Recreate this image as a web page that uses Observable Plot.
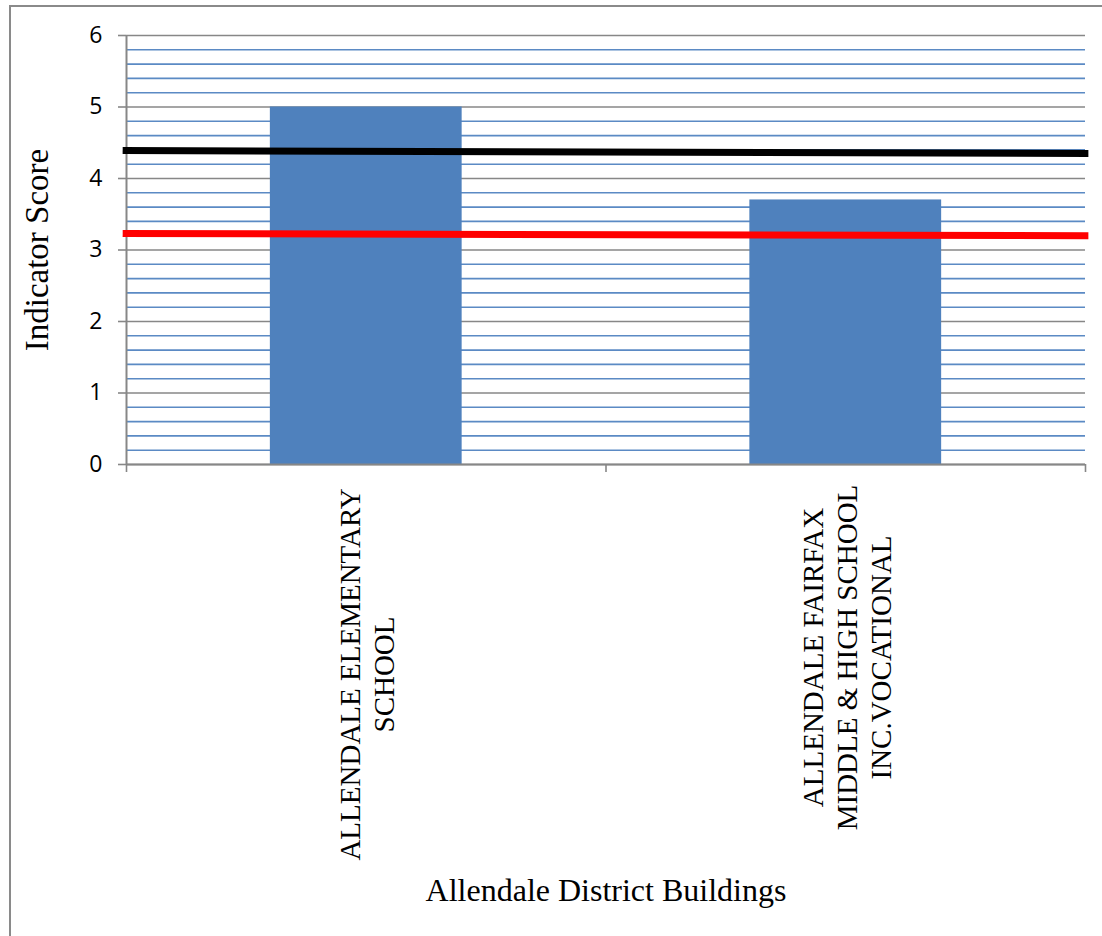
<!DOCTYPE html>
<html>
<head>
<meta charset="utf-8">
<script src="https://cdn.jsdelivr.net/npm/d3@7"></script>
<script src="https://cdn.jsdelivr.net/npm/@observablehq/plot@0.6"></script>
<style>
  html, body { margin: 0; padding: 0; background: #fff; }
  #wrap { position: relative; width: 1102px; height: 936px; overflow: hidden; }
  #frame { position: absolute; left: 9px; top: 5px; width: 1200px; height: 1000px;
           border: 2px solid #8a8a8a; pointer-events: none; box-sizing: border-box; }
</style>
</head>
<body>
<div id="wrap"><div id="frame"></div></div>
<script>
// ---- data ----
const buildings = ["ALLENDALE ELEMENTARY\nSCHOOL", "ALLENDALE FAIRFAX\nMIDDLE & HIGH SCHOOL\nINC.VOCATIONAL"];
const scores = [5.0, 3.7];
const yTicks = [0, 1, 2, 3, 4, 5, 6];
const yMinorTicks = [0.2, 0.4, 0.6, 0.8, 1.2, 1.4, 1.6, 1.8, 2.2, 2.4, 2.6, 2.8, 3.2, 3.4, 3.6, 3.8, 4.2, 4.4, 4.6, 4.8, 5.2, 5.4, 5.6, 5.8];
const benchX = [-0.008, 2.006];
const blackBench = [4.39, 4.35];
const redBench = [3.23, 3.20];
const yLabel = "Indicator Score";
const xLabel = "Allendale District Buildings";

const serif = "'Liberation Serif', 'Times New Roman', serif";
const sans = "'Open Sans', 'Liberation Sans', sans-serif";
const gray = "#878787";
const blue = "#4f81bd";

const chart = Plot.plot({
  width: 1102,
  height: 936,
  marginLeft: 126,
  marginRight: 17,
  marginTop: 35,
  marginBottom: 472,
  style: { background: "transparent", overflow: "visible" },
  x: { domain: [0, buildings.length], axis: null },
  y: { domain: [0, 6], axis: null },
  marks: [
    Plot.ruleY(yMinorTicks, { stroke: "#5b8ac4", strokeWidth: 1.6 }),
    Plot.ruleY(yTicks, { stroke: gray, strokeWidth: 1.6 }),
    Plot.rectY(scores, { x1: (d, i) => i + 0.3, x2: (d, i) => i + 0.7, y1: 0, y2: d => d, fill: blue }),
    Plot.ruleX([0], { stroke: gray, strokeWidth: 2 }),
    Plot.ruleY([0], { stroke: gray, strokeWidth: 2 }),
    Plot.axisY({ ticks: yTicks, tickSize: 8, tickPadding: 16, tickFormat: d3.format("d"), stroke: gray, fill: "#000",
                 strokeWidth: 1.6, fontSize: 23, fontFamily: sans, label: null }),
    Plot.axisX({ ticks: [0, 1, 2], tickSize: 8, tickFormat: () => "", stroke: gray, strokeWidth: 1.6, label: null }),
    Plot.line(benchX, { x: d => d, y: (d, i) => blackBench[i], stroke: "#000", strokeWidth: 7, strokeLinecap: "butt" }),
    Plot.line(benchX, { x: d => d, y: (d, i) => redBench[i], stroke: "#ff0000", strokeWidth: 7, strokeLinecap: "butt" }),
    Plot.text([buildings[0]], { x: 0.5, frameAnchor: "bottom", dy: 210, rotate: -90, textAnchor: "middle",
                                 lineAnchor: "middle", lineHeight: 1.17, fontSize: 29, fontFamily: serif, fill: "#000" }),
    Plot.text([buildings[1]], { x: 1.5, frameAnchor: "bottom", dy: 193, rotate: -90, textAnchor: "middle",
                                 lineAnchor: "middle", lineHeight: 1.17, fontSize: 29, fontFamily: serif, fill: "#000" }),
    Plot.text([yLabel], { frameAnchor: "left", dx: -89, rotate: -90, textAnchor: "middle", lineAnchor: "middle",
                          fontSize: 33, fontFamily: serif, fill: "#000" }),
    Plot.text([xLabel], { frameAnchor: "bottom", dy: 426, textAnchor: "middle", lineAnchor: "middle",
                          fontSize: 32, fontFamily: serif, fill: "#000" })
  ]
});
document.getElementById("wrap").insertBefore(chart, document.getElementById("frame"));
</script>
</body>
</html>
